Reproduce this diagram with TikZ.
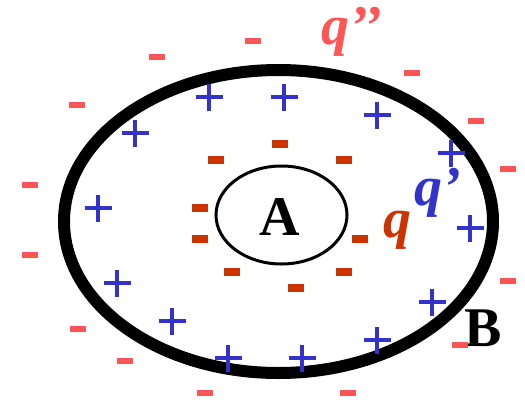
\documentclass[tikz,border=0pt]{standalone}
\usepackage{fontspec}
\setmainfont{Liberation Serif}
\definecolor{innerred}{HTML}{CC3300}
\definecolor{outerred}{HTML}{FF5555}
\definecolor{plusblue}{HTML}{3333CC}
\begin{document}
\begin{tikzpicture}[x=1pt,y=-1pt]
	\tikzset{
		shell/.style={line width=12pt,color=black},
		core/.style={line width=3pt,color=black},
		big label/.style={font=\fontsize{56}{60}\selectfont\bfseries},
		charge label/.style={font=\fontsize{56}{60}\selectfont\bfseries\itshape}
	}
	\useasboundingbox (0,0) rectangle (525,400);
	\path
	(278.5,221.5) coordinate (Bc)
	(281.5,215) coordinate (Ac);
	% conductor B and the body A
	\draw[shell] (Bc) ellipse (214.5 and 151.5);
	\draw[core] (Ac) ellipse (65.5 and 49);
	\node[big label] (A) at (280,217) {A};
	\node[big label] (B) at (483,328) {B};
	% induced charges
	\foreach \x/\y in {280/144,216/160,344/160,200/208,200/239,360/239,232/272,344/272,296/288}{
		\fill[innerred] (\x-8,\y-4) rectangle (\x+8,\y+4);
	}
	\foreach \x/\y in {209/97,284/97,135/133,377/115,451/153,98/208,470/228,117/283,172/321,432/302,228/358,302/358,377/340}{
		\draw[plusblue,line width=4pt] (\x-13.5,\y) -- (\x+13.5,\y) (\x,\y-13.5) -- (\x,\y+13.5);
	}
	\foreach \x/\y in {253/41,157/57,77/105,412/73,476/121,30/185,508/169,30/255,508/281,78/329,125/361,205/393,348/393,460/345}{
		\fill[outerred] (\x-8,\y-2.75) rectangle (\x+8,\y+2.75);
	}
	\node[charge label,text=innerred] (q) at (397,230) {q};
	\node[charge label,text=plusblue] (q1) at (438,193) {q'};
	\node[charge label,text=outerred] (q2) at (352,32) {q'{}'};
\end{tikzpicture}
\end{document}
